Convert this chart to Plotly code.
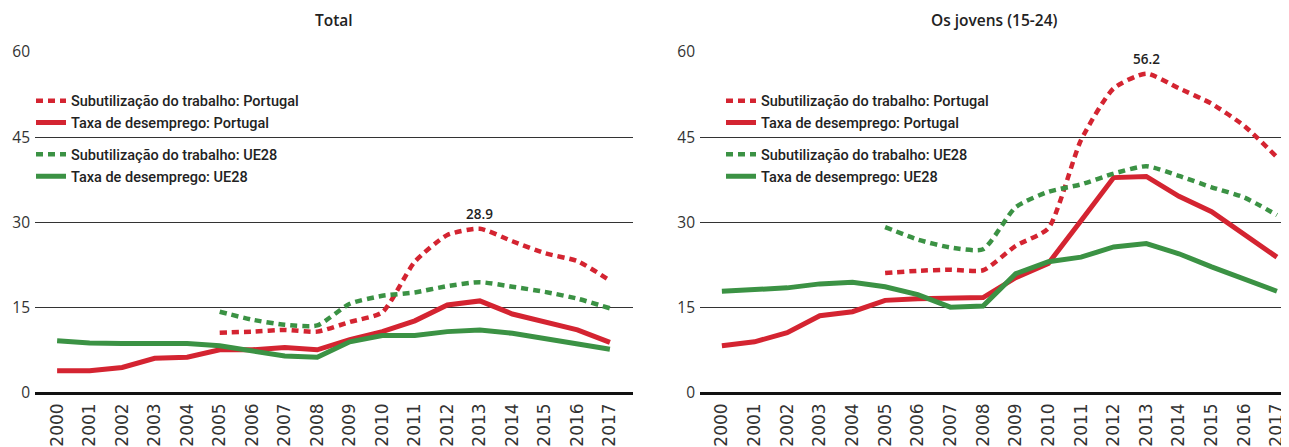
import plotly.graph_objects as go

years = list(range(2000, 2018))
years_sub = list(range(2005, 2018))

# Total
tot_desemp_pt = [3.9, 3.9, 4.5, 6.1, 6.3, 7.6, 7.6, 8.0, 7.6, 9.4, 10.8, 12.7, 15.5, 16.2, 13.9, 12.4, 11.1, 8.9]
tot_desemp_ue = [9.2, 8.8, 8.7, 8.7, 8.7, 8.3, 7.5, 6.5, 6.3, 9.0, 10.1, 10.1, 10.8, 11.1, 10.5, 9.6, 8.7, 7.7]
tot_sub_pt = [10.6, 10.8, 11.1, 10.8, 12.5, 14.2, 23.1, 27.8, 28.9, 26.7, 24.6, 23.2, 19.8]
tot_sub_ue = [14.3, 12.9, 12.0, 11.9, 15.7, 17.1, 17.7, 18.8, 19.5, 18.7, 17.8, 16.6, 14.9]

# Os jovens (15-24)
jov_desemp_pt = [8.3, 9.0, 10.6, 13.6, 14.3, 16.3, 16.6, 16.8, 16.8, 20.3, 22.8, 30.3, 37.9, 38.1, 34.6, 31.9, 27.9, 23.9]
jov_desemp_ue = [17.9, 18.1, 18.5, 19.2, 19.5, 18.7, 17.3, 15.1, 15.3, 21.0, 23.1, 23.9, 25.7, 26.3, 24.5, 22.2, 20.1, 17.9]
jov_sub_pt = [21.1, 21.5, 21.7, 21.6, 25.9, 29.0, 44.5, 53.6, 56.2, 53.6, 50.9, 47.0, 41.5]
jov_sub_ue = [29.2, 27.0, 25.6, 25.3, 32.7, 35.4, 36.7, 38.6, 39.9, 38.2, 36.2, 34.4, 31.3]

names = ["Subutilização do trabalho: Portugal", "Taxa de desemprego: Portugal",
         "Subutilização do trabalho: UE28", "Taxa de desemprego: UE28"]
titles = ["Total", "Os jovens (15-24)"]
peak_labels = ["28.9", "56.2"]
yticks = [0, 15, 30, 45, 60]

RED = "#d42431"
GREEN = "#3b9244"
DOT = "7px,5px"

fig = go.Figure()

def add_panel(sub_pt, desemp_pt, sub_ue, desemp_ue, xa, ya, leg):
    specs = [
        (years_sub, sub_pt, names[0], RED, DOT, "pt", "spline"),
        (years, desemp_pt, names[1], RED, "solid", "pt", "linear"),
        (years_sub, sub_ue, names[2], GREEN, DOT, "ue", "spline"),
        (years, desemp_ue, names[3], GREEN, "solid", "ue", "linear"),
    ]
    for x, y, n, c, d, g, shp in specs:
        fig.add_trace(go.Scatter(
            x=x, y=y, name=n, mode="lines",
            line=dict(color=c, width=4.5 if d != "solid" else 5, dash=d, shape=shp, smoothing=0.6),
            xaxis=xa, yaxis=ya, legend=leg, legendgroup=leg + g,
        ))

add_panel(tot_sub_pt, tot_desemp_pt, tot_sub_ue, tot_desemp_ue, "x", "y", "legend")
add_panel(jov_sub_pt, jov_desemp_pt, jov_sub_ue, jov_desemp_ue, "x2", "y2", "legend2")

# page body has an 8px margin; figure sized to fill the rest of the window
W, H = 1281, 439
tickfont = dict(family="Open Sans", size=15.5, color="#333333")
xtickfont = dict(family="DejaVu Sans", size=17, color="#333333")

yax = dict(range=[0, 60], tickvals=yticks, showgrid=True, gridcolor="#333333", gridwidth=1,
           zeroline=True, zerolinecolor="#111111", zerolinewidth=2.5, showline=False,
           ticks="", tickfont=tickfont, fixedrange=True, ticklabelstandoff=4)
xax = dict(tickvals=years, ticktext=[str(v) for v in years], tickangle=-90, showgrid=False,
           zeroline=False, showline=False, ticks="", tickfont=xtickfont, fixedrange=True,
           ticklabelstandoff=6)

legfont = dict(family="Roboto", size=14.5, color="#222222", weight=500)

fig.update_layout(
    width=W, height=H,
    margin=dict(l=0, r=0, t=44, b=54),
    paper_bgcolor="white", plot_bgcolor="white",
    showlegend=True,
    xaxis=dict(domain=[27 / W, 625 / W], range=[1999.32, 2017.71], anchor="y", **xax),
    yaxis=dict(anchor="x", **yax),
    xaxis2=dict(domain=[692 / W, 1.0], range=[1999.33, 2017.37], anchor="y2", **xax),
    yaxis2=dict(anchor="x2", **yax),
    legend=dict(x=23 / W, xanchor="left", y=0.904, yanchor="top", font=legfont,
                bgcolor="rgba(0,0,0,0)", tracegroupgap=10, traceorder="grouped"),
    legend2=dict(x=713 / W, xanchor="left", y=0.904, yanchor="top", font=legfont,
                 bgcolor="rgba(0,0,0,0)", tracegroupgap=10, traceorder="grouped"),
)

annotations = []
for t, xr in zip(titles, ["x domain", "x2 domain"]):
    annotations.append(dict(text=t, x=0.5, xref=xr, y=1, yref="paper",
                            yanchor="middle", yshift=32, showarrow=False,
                            font=dict(family="Open Sans", size=15.5, color="#222222", weight=600)))
for lab, val, xr, yr in [(peak_labels[0], tot_sub_pt[8], "x", "y"), (peak_labels[1], jov_sub_pt[8], "x2", "y2")]:
    annotations.append(dict(text=lab, x=2013, y=val, xref=xr, yref=yr,
                            yanchor="middle", yshift=15, showarrow=False,
                            font=dict(family="Open Sans", size=13.5, color="#222222", weight=600)))
fig.update_layout(annotations=annotations)

fig.write_html("out.html")
